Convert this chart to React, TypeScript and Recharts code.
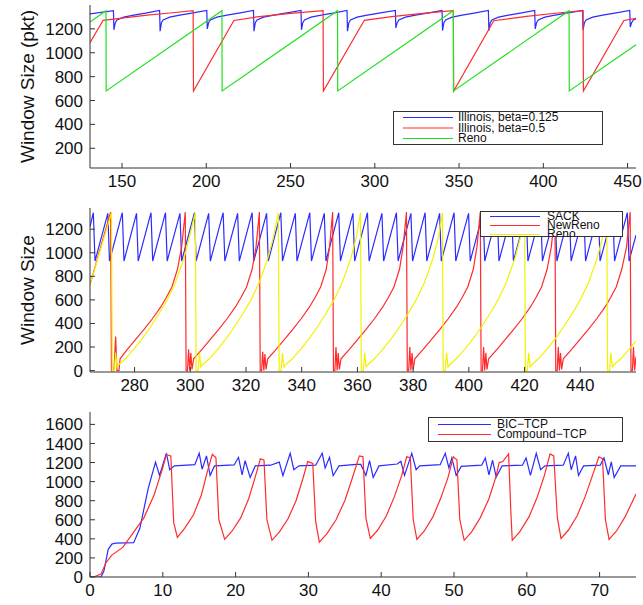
import { LineChart, Line, XAxis, YAxis } from "recharts";

type Pt = [number, number];

// Panel 1: Illinois (two betas) against Reno, window in packets
const illinoisBeta0125: Pt[] = [
  [131, 1325],
  [144.9, 1352], [145.2, 1192], [146.0, 1252], [147.0, 1275], [151.0, 1298], [157.0, 1315], [164.0, 1332],
  [172.3, 1355], [172.6, 1180], [173.4, 1252], [174.4, 1275], [178.3, 1298], [184.3, 1315], [191.3, 1332],
  [200.3, 1355], [200.6, 1200], [201.4, 1252], [202.4, 1275], [206.3, 1298], [212.3, 1315], [219.3, 1332],
  [228.0, 1355], [228.3, 1180], [229.1, 1252], [230.1, 1275], [234.0, 1298], [240.0, 1315], [247.0, 1332],
  [256.2, 1355], [256.5, 1192], [257.3, 1252], [258.3, 1275], [262.2, 1298], [268.2, 1315], [275.2, 1332],
  [283.5, 1355], [283.8, 1180], [284.6, 1252], [285.6, 1275], [289.5, 1298], [295.5, 1315], [302.5, 1332],
  [312.2, 1355], [312.5, 1208], [313.3, 1252], [314.3, 1275], [318.2, 1298], [324.2, 1315], [331.2, 1332],
  [339.9, 1355], [340.2, 1186], [341.0, 1252], [342.0, 1275], [345.9, 1298], [351.9, 1315], [358.9, 1332],
  [367.4, 1355], [367.7, 1185], [368.5, 1252], [369.5, 1275], [373.4, 1298], [379.4, 1315], [386.4, 1332],
  [394.9, 1355], [395.2, 1200], [396.0, 1252], [397.0, 1275], [400.9, 1298], [406.9, 1315], [413.9, 1332],
  [423.3, 1355], [423.6, 1192], [424.4, 1252], [425.4, 1275], [429.3, 1298], [435.3, 1315], [442.3, 1332],
  [451.3, 1355], [451.6, 1215], [452.4, 1252], [453.4, 1275], [455, 1285],
];

const illinoisBeta05: Pt[] = [
  [131, 1085], [138.8, 1272], [150, 1290], [165, 1315], [180, 1335], [192.2, 1352],
  [192.4, 680], [216.4, 1270], [230, 1300], [250, 1330], [269.3, 1352],
  [269.5, 680], [293.8, 1272], [310, 1302], [330, 1332], [346.6, 1352],
  [346.8, 680], [370.6, 1268], [390, 1305], [410, 1335], [423.6, 1352],
  [423.8, 680], [447.8, 1270], [455, 1288],
];

const renoLong: Pt[] = [
  [131, 1258], [140.5, 1352], [140.6, 680], [209.3, 1352], [209.4, 680],
  [277.9, 1352], [278.0, 680], [346.6, 1352], [346.7, 680], [415.3, 1352],
  [415.4, 680], [455, 1067],
];

// Panel 2: SACK, NewReno and Reno
const sack: Pt[] = [
  [264, 1220], [265.2, 1340], [265.8, 930], [270.4, 1335], [271.0, 930], [275.6, 1340], [276.2, 930],
  [280.7, 1335], [281.3, 930], [285.9, 1340], [286.5, 930], [291.1, 1340], [291.7, 930], [296.3, 1335],
  [296.9, 930], [301.5, 1340], [302.1, 930], [306.6, 1335], [307.2, 930], [311.8, 1340], [312.4, 930],
  [317.0, 1335], [317.6, 930], [322.2, 1340], [322.8, 930], [327.4, 1335], [328.0, 930], [332.5, 1340],
  [333.1, 930], [337.7, 1335], [338.3, 930], [342.9, 1340], [343.5, 930], [348.1, 1335], [348.7, 930],
  [353.3, 1340], [353.9, 930], [358.4, 1335], [359.0, 930], [363.6, 1340], [364.2, 930], [368.8, 1335],
  [369.4, 930], [374.0, 1340], [374.6, 930], [379.2, 1335], [379.8, 930], [384.3, 1340], [384.9, 930],
  [389.5, 1335], [390.1, 930], [394.7, 1340], [395.3, 930], [399.9, 1335], [400.5, 930], [405.1, 1340],
  [405.7, 930], [410.2, 1335], [410.8, 930], [415.4, 1340], [416.0, 930], [420.6, 1335], [421.2, 930],
  [425.8, 1340], [426.4, 930], [431.0, 1335], [431.6, 930], [436.1, 1340], [436.7, 930], [441.3, 1335],
  [441.9, 930], [446.5, 1340], [447.1, 930], [451.7, 1335], [452.3, 930], [456.9, 1340], [457.5, 930],
  [460, 1150],
];

const newReno: Pt[] = [
  [264, 730], [271.4, 1345],
  [271.7, 0], [272.6, 0], [273.2, 290], [273.7, 0], [274.4, 0], [274.8, 100], [277.4, 180], [280.4, 265],
  [283.4, 350], [286.4, 440], [289.4, 540], [291.4, 620], [293.4, 710], [295.4, 860], [296.9, 1050], [298.2, 1345],
  [298.5, 0], [299.0, 0], [299.4, 180], [299.8, 0], [300.2, 150], [300.6, 10], [301.2, 100], [304.2, 180],
  [307.2, 265], [310.2, 350], [313.2, 440], [316.2, 540], [318.2, 620], [320.2, 710], [322.2, 860], [323.6, 1050], [324.8, 1345],
  [325.1, 0], [325.6, 0], [326.0, 160], [326.4, 0], [326.8, 140], [327.2, 10], [327.8, 100], [330.8, 180],
  [333.8, 265], [336.8, 350], [339.8, 440], [342.8, 540], [344.8, 620], [346.8, 710], [348.8, 860], [350.0, 1050], [351.1, 1345],
  [351.4, 0], [351.9, 0], [352.3, 200], [352.7, 0], [353.1, 150], [353.5, 10], [354.1, 100], [357.1, 180],
  [360.1, 265], [363.1, 350], [366.1, 440], [369.1, 540], [371.1, 620], [373.1, 710], [375.1, 860], [376.4, 1050], [377.6, 1345],
  [377.9, 0], [378.4, 0], [378.8, 200], [379.2, 0], [379.6, 150], [380.0, 10], [380.6, 100], [383.6, 180],
  [386.6, 265], [389.6, 350], [392.6, 440], [395.6, 540], [397.6, 620], [399.6, 710], [401.6, 860], [402.9, 1050], [404.1, 1345],
  [404.4, 0], [404.9, 0], [405.3, 200], [405.7, 0], [406.1, 150], [406.5, 10], [407.1, 100], [410.1, 180],
  [413.1, 265], [416.1, 350], [419.1, 440], [422.1, 540], [424.1, 620], [426.1, 710], [428.1, 860], [429.6, 1050], [430.9, 1345],
  [431.2, 0], [431.7, 0], [432.1, 200], [432.5, 0], [432.9, 150], [433.3, 10], [433.9, 100], [436.9, 180],
  [439.9, 265], [442.9, 350], [445.9, 440], [448.9, 540], [450.9, 620], [452.9, 710], [454.9, 860], [456.6, 1050], [457.9, 1345],
  [458.2, 0], [458.7, 0], [459.1, 200], [459.5, 0], [460, 120],
];

const renoShort: Pt[] = [
  [264, 730], [271.7, 1340],
  [272.0, 0], [272.7, 0], [273.2, 150], [273.7, 30], [274.3, 50], [276.7, 100], [279.7, 180], [282.7, 270],
  [285.7, 370], [288.7, 480], [291.7, 600], [294.7, 750], [297.7, 950], [299.7, 1130], [301.8, 1340],
  [302.1, 0], [302.8, 0], [303.3, 150], [303.8, 30], [304.4, 50], [306.8, 100], [309.8, 180], [312.8, 270],
  [315.8, 370], [318.8, 480], [321.8, 600], [324.8, 750], [327.8, 950], [329.8, 1130], [331.6, 1340],
  [331.9, 0], [332.6, 0], [333.1, 150], [333.6, 30], [334.2, 50], [336.6, 100], [339.6, 180], [342.6, 270],
  [345.6, 370], [348.6, 480], [351.6, 600], [354.6, 750], [357.6, 950], [359.6, 1130], [361.1, 1340],
  [361.4, 0], [362.1, 0], [362.6, 150], [363.1, 30], [363.7, 50], [366.1, 100], [369.1, 180], [372.1, 270],
  [375.1, 370], [378.1, 480], [381.1, 600], [384.1, 750], [387.1, 950], [389.1, 1130], [390.5, 1340],
  [390.8, 0], [391.5, 0], [392.0, 150], [392.5, 30], [393.1, 50], [395.5, 100], [398.5, 180], [401.5, 270],
  [404.5, 370], [407.5, 480], [410.5, 600], [413.5, 750], [416.5, 950], [418.5, 1130], [420.0, 1340],
  [420.3, 0], [421.0, 0], [421.5, 150], [422.0, 30], [422.6, 50], [425.0, 100], [428.0, 180], [431.0, 270],
  [434.0, 370], [437.0, 480], [440.0, 600], [443.0, 750], [446.0, 950], [448.0, 1130], [449.5, 1340],
  [449.8, 0], [450.5, 0], [451.0, 150], [451.5, 30], [452.1, 50], [454.5, 100], [457.5, 180], [460, 250],
];

// Panel 3: BIC-TCP and Compound-TCP from start-up
const bicTcp: Pt[] = [
  [0, 0], [1.5, 0], [1.9, 60], [2.5, 290], [3.0, 345], [3.5, 355], [6.0, 360], [6.85, 510], [8.0, 930],
  [9.0, 1205], [9.55, 1065], [10.5, 1297], [10.95, 1125], [11.6, 1165], [14.4, 1178], [15.0, 1297],
  [15.4, 1130], [16.0, 1270], [16.5, 1065], [17.1, 1165], [19.8, 1175], [20.4, 1255], [20.9, 1072],
  [21.3, 1220], [22.0, 1044], [22.7, 1165], [24.8, 1172], [26.0, 1205], [26.5, 1062], [27.5, 1297],
  [28.0, 1125], [28.7, 1165], [31.0, 1172], [31.9, 1297], [32.3, 1143], [32.9, 1255], [33.4, 1062],
  [34.2, 1165], [36.6, 1180], [37.2, 1180], [37.9, 1065], [38.4, 1220], [38.9, 1044], [39.7, 1165],
  [42.2, 1185], [42.7, 1213], [43.2, 1065], [44.2, 1297], [44.8, 1125], [45.3, 1165], [48.1, 1178],
  [48.8, 1297], [49.3, 1143], [49.7, 1248], [50.3, 1065], [51.0, 1160], [53.8, 1172], [54.3, 1248],
  [54.8, 1072], [55.3, 1224], [55.8, 1048], [56.6, 1165], [59.4, 1172], [59.9, 1248], [60.5, 1065],
  [61.3, 1297], [61.9, 1125], [62.5, 1165], [65.0, 1172], [65.7, 1297], [66.1, 1125], [66.7, 1270],
  [67.1, 1065], [67.8, 1165], [70.1, 1172], [70.6, 1248], [71.2, 1072], [71.6, 1206], [72.0, 1044],
  [72.9, 1165], [75, 1165],
];

const compoundTcp: Pt[] = [
  [0.5, 0], [1.5, 30], [2.2, 150], [3.0, 230], [4.5, 310], [6.0, 470], [7.4, 620], [8.8, 860], [9.9, 1120],
  [10.5, 1283], [11.1, 1270], [11.5, 570], [12.0, 415],
  [13.0, 510], [14.2, 650], [15.3, 860], [16.1, 1100], [16.8, 1285], [17.3, 1250], [17.7, 600], [18.5, 395],
  [19.5, 480], [20.7, 620], [21.8, 820], [22.7, 1050], [23.4, 1240], [23.9, 1225], [24.3, 600], [25.0, 385],
  [26.0, 470], [27.2, 610], [28.3, 800], [29.2, 1020], [29.9, 1210], [30.6, 1190], [31.0, 580], [31.5, 365],
  [32.5, 450], [33.8, 600], [35.0, 800], [36.0, 1030], [37.0, 1270], [37.5, 1260], [37.9, 620], [38.5, 405],
  [39.5, 490], [40.7, 640], [41.8, 840], [42.8, 1060], [43.5, 1260], [44.0, 1250], [44.4, 600], [44.9, 395],
  [45.9, 480], [47.1, 630], [48.2, 830], [49.2, 1050], [49.9, 1260], [50.4, 1230], [50.8, 600], [51.4, 385],
  [52.4, 470], [53.6, 620], [54.8, 820], [55.8, 1060], [56.2, 1200], [56.7, 1210], [57.5, 1290], [57.8, 700], [58.0, 385],
  [59.0, 470], [60.3, 630], [61.4, 830], [62.4, 1060], [63.2, 1290], [63.7, 1270], [64.2, 620], [64.7, 405],
  [65.7, 490], [66.9, 640], [68.0, 840], [69.0, 1060], [69.9, 1260], [70.4, 1240], [70.8, 600], [71.3, 395],
  [72.3, 480], [73.5, 630], [75, 870],
];

const ticksTop = [150, 200, 250, 300, 350, 400, 450];
const ticksMid = [280, 300, 320, 340, 360, 380, 400, 420, 440];
const ticksBottom = [0, 10, 20, 30, 40, 50, 60, 70];
const yTicksTop = [200, 400, 600, 800, 1000, 1200];
const yTicksMid = [0, 200, 400, 600, 800, 1000, 1200];
const yTicksBottom = [0, 200, 400, 600, 800, 1000, 1200, 1400, 1600];

const FONT = '"Liberation Sans", Arial, Helvetica, sans-serif';
const BLUE = "#2b2bff";
const RED = "#ff2b2b";
const GREEN = "#22e022";
const YELLOW = "#f2f200";
const AXIS = "#333";

const rows = (pts: Pt[]) => pts.map(([t, w]) => ({ t, w }));

function YTitle({ viewBox, text }: any) {
  const cy = viewBox.y + viewBox.height / 2;
  return (
    <text
      x={27}
      y={cy}
      transform={`rotate(-90 27 ${cy})`}
      textAnchor="middle"
      dominantBaseline="central"
      fontSize={19}
      fill="#111"
      fontFamily={FONT}
    >
      {text}
    </text>
  );
}

interface Series {
  name: string;
  color: string;
  points: Pt[];
}

interface LegendSpec {
  left: number;
  top: number;
  width: number;
  height: number;
  rowYs: number[];
  lineX: number;
  lineW: number;
  textX: number;
}

// boxed legend drawn as a small svg laid over the plot
function LegendBox({ spec, top, series }: { spec: LegendSpec; top: number; series: Series[] }) {
  return (
    <svg
      width={spec.width}
      height={spec.height}
      style={{ position: "absolute", left: spec.left, top: spec.top - top, overflow: "hidden" }}
    >
      <rect x={0.5} y={0.5} width={spec.width - 1} height={spec.height - 1} fill="#fff" stroke="#333" />
      {series.map((s, i) => (
        <g key={s.name}>
          <line
            x1={spec.lineX}
            x2={spec.lineX + spec.lineW}
            y1={spec.rowYs[i] + 0.5}
            y2={spec.rowYs[i] + 0.5}
            stroke={s.color}
            strokeWidth={1}
          />
          <text
            x={spec.textX}
            y={spec.rowYs[i]}
            dominantBaseline="central"
            fontSize={12}
            fontFamily={FONT}
            fill="#111"
          >
            {s.name}
          </text>
        </g>
      ))}
    </svg>
  );
}

interface PanelProps {
  top: number;
  height: number;
  mt: number;
  mb: number;
  xDomain: [number, number];
  xTicks: number[];
  yDomain: [number, number];
  yTicks: number[];
  yLabel?: string;
  series: Series[];
  legend: LegendSpec;
}

function Panel({ top, height, mt, mb, xDomain, xTicks, yDomain, yTicks, yLabel, series, legend }: PanelProps) {
  const tickStyle = { fontSize: 17, fill: "#111", fontFamily: FONT };
  return (
    <div style={{ position: "absolute", left: 0, top, width: 643, height }}>
      <LineChart width={643} height={height} margin={{ top: mt, right: 7, bottom: mb, left: 0 }}>
        <XAxis
          xAxisId="b"
          type="number"
          dataKey="t"
          domain={xDomain}
          ticks={xTicks}
          interval={0}
          allowDataOverflow
          height={28}
          tickSize={-5}
          tickMargin={12}
          tick={tickStyle}
          stroke={AXIS}
        />
        <XAxis
          xAxisId="t"
          orientation="top"
          type="number"
          domain={xDomain}
          ticks={xTicks}
          interval={0}
          allowDataOverflow
          height={0}
          tickSize={-5}
          tick={false}
          stroke={AXIS}
        />
        <YAxis
          yAxisId="l"
          type="number"
          domain={yDomain}
          ticks={yTicks}
          interval={0}
          allowDataOverflow
          width={90}
          tickSize={-5}
          tickMargin={12}
          tick={tickStyle}
          stroke={AXIS}
          label={yLabel ? <YTitle text={yLabel} /> : undefined}
        />
        <YAxis
          yAxisId="r"
          orientation="right"
          type="number"
          domain={yDomain}
          ticks={yTicks}
          interval={0}
          allowDataOverflow
          width={0}
          tickSize={-5}
          tick={false}
          stroke={AXIS}
        />
        {series.map((s) => (
          <Line
            key={s.name}
            xAxisId="b"
            yAxisId="l"
            data={rows(s.points)}
            dataKey="w"
            type="linear"
            stroke={s.color}
            strokeWidth={1.2}
            dot={false}
            activeDot={false}
            isAnimationActive={false}
          />
        ))}
      </LineChart>
      <LegendBox spec={legend} top={top} series={series} />
    </div>
  );
}

export default function App() {
  return (
    <div style={{ position: "absolute", left: 0, top: 0, width: 643, height: 605, background: "#fff" }}>
      <Panel
        top={0}
        height={200}
        mt={5}
        mb={4}
        xDomain={[131, 455]}
        xTicks={ticksTop}
        yDomain={[35, 1400]}
        yTicks={yTicksTop}
        yLabel="Window Size (pkt)"
        series={[
          { name: "Illinois, beta=0.125", color: BLUE, points: illinoisBeta0125 },
          { name: "Illinois, beta=0.5", color: RED, points: illinoisBeta05 },
          { name: "Reno", color: GREEN, points: renoLong },
        ]}
        legend={{ left: 393, top: 111, width: 210, height: 34, rowYs: [6, 16.5, 27], lineX: 10, lineW: 50, textX: 65 }}
      />
      <Panel
        top={200}
        height={200}
        mt={8}
        mb={0}
        xDomain={[264, 460]}
        xTicks={ticksMid}
        yDomain={[-12, 1380]}
        yTicks={yTicksMid}
        yLabel="Window Size"
        series={[
          { name: "SACK", color: BLUE, points: sack },
          { name: "NewReno", color: RED, points: newReno },
          { name: "Reno", color: YELLOW, points: renoShort },
        ]}
        legend={{ left: 480, top: 211, width: 143, height: 26, rowYs: [5, 14, 23], lineX: 10, lineW: 50, textX: 67 }}
      />
      <Panel
        top={400}
        height={205}
        mt={12}
        mb={0}
        xDomain={[0, 75]}
        xTicks={ticksBottom}
        yDomain={[0, 1730]}
        yTicks={yTicksBottom}
        series={[
          { name: "BIC\u2212TCP", color: BLUE, points: bicTcp },
          { name: "Compound\u2212TCP", color: RED, points: compoundTcp },
        ]}
        legend={{ left: 428, top: 417, width: 195, height: 25, rowYs: [7, 17], lineX: 10, lineW: 53, textX: 69 }}
      />
    </div>
  );
}
